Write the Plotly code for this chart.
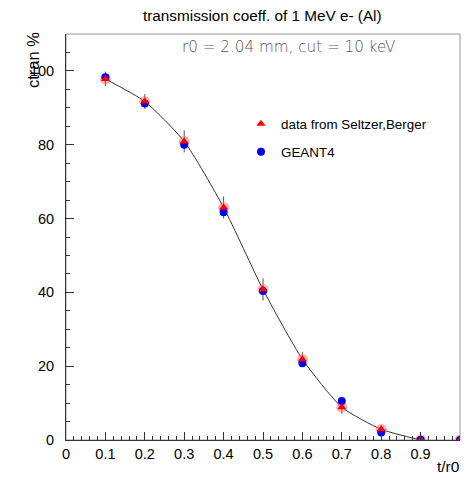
import plotly.graph_objects as go

t_r0 = [0.1, 0.2, 0.3, 0.4, 0.5, 0.6, 0.7, 0.8, 0.9, 1.0]
seltzer_berger = [97.8, 91.7, 80.9, 63.0, 40.8, 21.9, 8.9, 2.9, 0.0, 0.0]
seltzer_err = [2.0, 2.0, 3.0, 3.0, 3.0, 2.0, 1.8, 1.0, 0.5, 0.0]
geant4 = [98.3, 91.2, 80.0, 61.7, 40.4, 20.8, 10.6, 2.0, 0.1, 0.0]

OFF = 8  # browser body margin
W, H = 472 - 2 * OFF, 482 - 2 * OFF
# plot frame in window pixels: left 66, right 460, top 34, bottom 440
L, T = 66 - OFF, 34 - OFF
R = W - (460 - OFF)
B = H - (440 - OFF)
font = "Liberation Sans, Arial, Helvetica, sans-serif"

fig = go.Figure()

fig.add_trace(go.Scatter(x=t_r0[:9], y=seltzer_berger[:9], mode="lines",
                         line=dict(color="#333333", width=1, shape="spline", smoothing=0.6),
                         showlegend=False, hoverinfo="skip"))
fig.add_trace(go.Scatter(x=t_r0, y=seltzer_berger, mode="markers",
                         marker=dict(size=1, color="rgba(0,0,0,0)"),
                         error_y=dict(type="data", array=seltzer_err, visible=True,
                                      color="#555555", thickness=1, width=0),
                         showlegend=False, hoverinfo="skip"))
fig.add_trace(go.Scatter(x=t_r0, y=seltzer_berger, mode="markers",
                         marker=dict(symbol="circle", size=11, color="rgba(255,90,90,0.45)",
                                     line=dict(width=0)),
                         showlegend=False, hoverinfo="skip"))
fig.add_trace(go.Scatter(x=t_r0, y=geant4, mode="markers", name="GEANT4",
                         marker=dict(symbol="circle", size=8, color="#0000ee", line=dict(width=0)),
                         legend="legend2"))
fig.add_trace(go.Scatter(x=t_r0, y=seltzer_berger, mode="markers",
                         name="data from Seltzer,Berger",
                         marker=dict(symbol="triangle-up", size=8, color="#ff0000", line=dict(width=0)),
                         legend="legend"))

pw = W - L - R
ph = H - T - B

def px(xw):
    return (xw - OFF - L) / pw

def py(yw):
    return (H - B - (yw - OFF)) / ph

fig.update_layout(
    width=W, height=H,
    margin=dict(l=L, r=R, t=T, b=B, pad=0),
    paper_bgcolor="white", plot_bgcolor="white",
    font=dict(family=font, size=14.5, color="black"),
    showlegend=True,
    legend=dict(x=px(241), y=py(124), xanchor="left", yanchor="middle",
                bgcolor="rgba(0,0,0,0)", font=dict(size=13.4, family=font),
                itemwidth=30),
    legend2=dict(x=px(241), y=py(152), xanchor="left", yanchor="middle",
                 bgcolor="rgba(0,0,0,0)", font=dict(size=13.4, family=font),
                 itemwidth=30),
    xaxis=dict(range=[0, 1], dtick=0.1, tick0=0, ticks="inside", ticklen=8,
               tickcolor="#333333", tickwidth=1,
               minor=dict(dtick=0.02, ticks="inside", ticklen=4, tickcolor="#333333"),
               showgrid=False, zeroline=False, showline=True, linecolor="#333333",
               linewidth=1, mirror=False, tickfont=dict(size=14.5, family=font),
               ticklabelstandoff=1),
    yaxis=dict(range=[0, 110], dtick=20, tick0=0, ticks="inside", ticklen=8,
               tickcolor="#333333", tickwidth=1,
               minor=dict(dtick=5, ticks="inside", ticklen=4, tickcolor="#333333"),
               showgrid=False, zeroline=False, showline=True, linecolor="#333333",
               linewidth=1, mirror=False, tickfont=dict(size=14.5, family=font),
               ticklabelstandoff=8),
    shapes=[dict(type="rect", xref="paper", yref="paper", x0=0, x1=1, y0=0, y1=1,
                 line=dict(color="#999999", width=1), layer="below")],
    annotations=[
        dict(text="transmission coeff. of 1 MeV e- (Al)", xref="paper", yref="paper",
             x=px(262), y=py(16), xanchor="center", yanchor="middle", showarrow=False,
             font=dict(size=15.3, family=font, color="black")),
        dict(text="r0 = 2.04 mm, cut = 10 keV", xref="paper", yref="paper",
             x=px(288), y=py(47), xanchor="center", yanchor="middle", showarrow=False,
             font=dict(size=15.2, family="DejaVu Sans, sans-serif", color="#555555", weight=200)),
        dict(text="ctran %", xref="paper", yref="paper", x=px(33), y=py(30),
             xanchor="center", yanchor="top", textangle=-90, showarrow=False,
             font=dict(size=16.5, family=font, color="black")),
        dict(text="t/r0", xref="paper", yref="paper", x=px(462), y=py(466),
             xanchor="right", yanchor="middle", showarrow=False,
             font=dict(size=15.5, family=font, color="black")),
    ],
)

fig.write_html("out.html")
